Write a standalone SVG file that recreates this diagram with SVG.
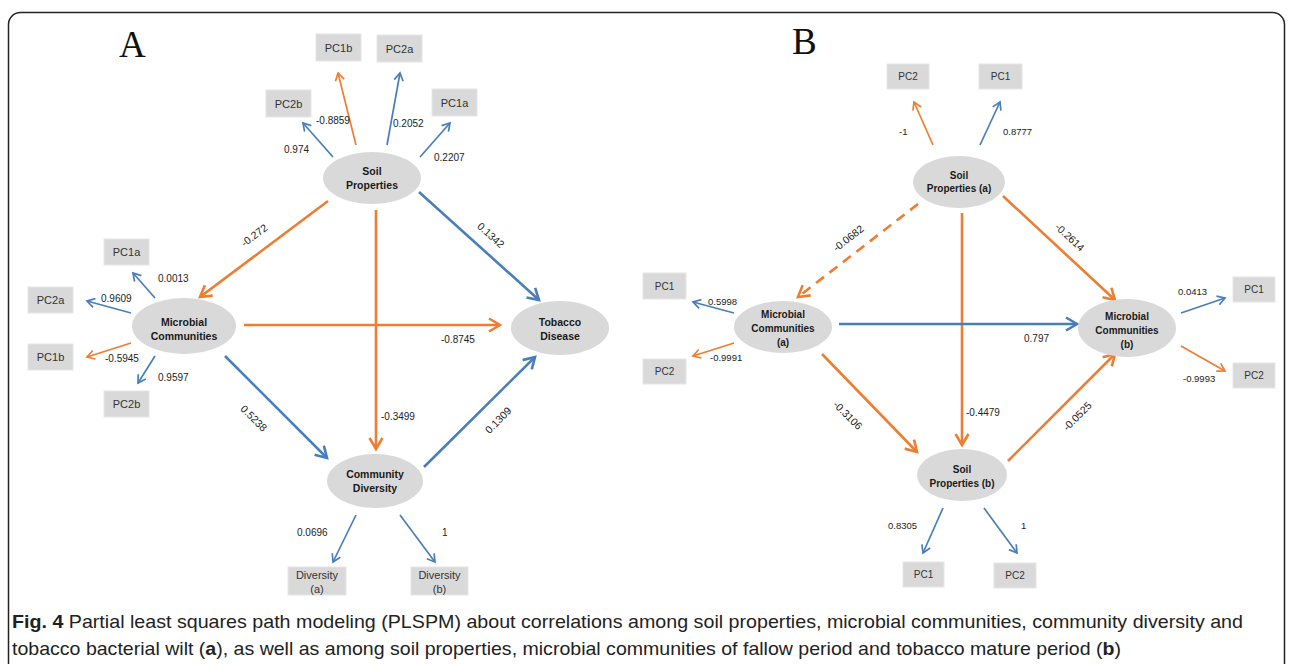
<svg xmlns="http://www.w3.org/2000/svg" width="1292" height="664" viewBox="0 0 1292 664">
<defs>
<style>
.node ellipse{fill:#D9D9D9;stroke:none}
.box rect{fill:#D9D9D9;stroke:#E6E6E6;stroke-width:1}
.nt{font-family:"Liberation Sans",Arial,sans-serif;font-weight:bold;font-size:10.5px;fill:#1a1a1a;text-anchor:middle}
.ntb{font-family:"Liberation Sans",Arial,sans-serif;font-weight:bold;font-size:10px;fill:#1a1a1a;text-anchor:middle}
.bt{font-family:"Liberation Sans",Arial,sans-serif;font-size:11px;fill:#333;text-anchor:middle}
.btb{font-family:"Liberation Sans",Arial,sans-serif;font-size:10px;fill:#333;text-anchor:middle}
.lbl{font-family:"Liberation Sans",Arial,sans-serif;font-size:10px;fill:#222}
.lblb{font-family:"Liberation Sans",Arial,sans-serif;font-size:9.5px;fill:#222}
.rl{font-family:"Liberation Sans",Arial,sans-serif;font-size:10.5px;fill:#222;text-anchor:middle;dominant-baseline:central}
.ob{stroke:#ED7D31;stroke-width:2.6;fill:none;marker-end:url(#ao)}
.bb{stroke:#4A7EBB;stroke-width:2.6;fill:none;marker-end:url(#ab)}
.os{stroke:#ED7D31;stroke-width:1.7;fill:none;marker-end:url(#aos)}
.bs{stroke:#4A7EBB;stroke-width:1.7;fill:none;marker-end:url(#abs)}
.dash{stroke-dasharray:10,7}
.cap{font-family:"Liberation Sans",Arial,sans-serif;font-size:19px;fill:#222}
.big{font-family:"Liberation Serif","Times New Roman",serif;font-size:37px;fill:#111}
</style>
<marker id="ao" markerUnits="userSpaceOnUse" viewBox="-14 -9 16 18" markerWidth="16" markerHeight="18" refX="0" refY="0" orient="auto" overflow="visible"><path d="M-11,-6.5 L0,0 L-11,6.5" fill="none" stroke="#ED7D31" stroke-width="2.6"/></marker>
<marker id="ab" markerUnits="userSpaceOnUse" viewBox="-14 -9 16 18" markerWidth="16" markerHeight="18" refX="0" refY="0" orient="auto" overflow="visible"><path d="M-11,-6.5 L0,0 L-11,6.5" fill="none" stroke="#4A7EBB" stroke-width="2.6"/></marker>
<marker id="aos" markerUnits="userSpaceOnUse" viewBox="-10 -6 12 12" markerWidth="12" markerHeight="12" refX="0" refY="0" orient="auto" overflow="visible"><path d="M-7.5,-4.5 L0,0 L-7.5,4.5" fill="none" stroke="#ED7D31" stroke-width="1.7"/></marker>
<marker id="abs" markerUnits="userSpaceOnUse" viewBox="-10 -6 12 12" markerWidth="12" markerHeight="12" refX="0" refY="0" orient="auto" overflow="visible"><path d="M-7.5,-4.5 L0,0 L-7.5,4.5" fill="none" stroke="#4A7EBB" stroke-width="1.7"/></marker>
</defs>
<rect x="0" y="0" width="1292" height="664" fill="#fff"/>
<rect x="8.5" y="12.5" width="1276" height="680" rx="12" ry="12" fill="none" stroke="#222" stroke-width="1.5"/>

<text class="big" x="119" y="57">A</text>
<text class="big" x="792" y="54">B</text>

<g id="connectors">
<!-- Panel A main -->
<line class="ob" x1="328" y1="201" x2="200" y2="297"/>
<line class="bb" x1="419" y1="192" x2="539" y2="300"/>
<line class="ob" x1="376" y1="210" x2="376" y2="449"/>
<line class="ob" x1="244" y1="325" x2="500" y2="325"/>
<line class="bb" x1="225" y1="356" x2="327" y2="458"/>
<line class="bb" x1="424" y1="467" x2="535" y2="357"/>
<!-- Panel A indicators -->
<line class="bs" x1="333" y1="157" x2="303" y2="123"/>
<line class="os" x1="356" y1="145" x2="338" y2="73"/>
<line class="bs" x1="387" y1="145" x2="400" y2="73"/>
<line class="bs" x1="420" y1="157" x2="450" y2="123"/>
<line class="bs" x1="155" y1="298" x2="133" y2="273"/>
<line class="bs" x1="131" y1="313" x2="87" y2="301"/>
<line class="os" x1="131" y1="343" x2="87" y2="357"/>
<line class="bs" x1="155" y1="356" x2="138" y2="383"/>
<line class="bs" x1="356" y1="515" x2="333" y2="562"/>
<line class="bs" x1="400" y1="515" x2="435" y2="562"/>
<!-- Panel B main -->
<line class="ob dash" x1="918" y1="204" x2="798" y2="297"/>
<line class="ob" x1="962" y1="213" x2="962" y2="445"/>
<line class="ob" x1="1003" y1="196" x2="1115" y2="300"/>
<line class="bb" x1="839" y1="324" x2="1077" y2="324"/>
<line class="ob" x1="822" y1="354" x2="917" y2="452"/>
<line class="ob" x1="1008" y1="461" x2="1115" y2="354"/>
<!-- Panel B indicators -->
<line class="os" x1="933" y1="145" x2="914" y2="102"/>
<line class="bs" x1="980" y1="145" x2="1000" y2="102"/>
<line class="bs" x1="734" y1="313" x2="693" y2="302"/>
<line class="os" x1="734" y1="343" x2="693" y2="356"/>
<line class="bs" x1="1181" y1="313" x2="1225" y2="298"/>
<line class="os" x1="1181" y1="346" x2="1225" y2="371"/>
<line class="bs" x1="943" y1="508" x2="923" y2="553"/>
<line class="bs" x1="984" y1="508" x2="1017" y2="553"/>

<!-- labels A -->
<text class="rl" transform="translate(254,235) rotate(-37)">-0.272</text>
<text class="rl" transform="translate(491,235) rotate(42)">0.1342</text>
<text class="lbl" x="381" y="420" font-size="10.5">-0.3499</text>
<text class="lbl" x="441" y="343" font-size="10.5">-0.8745</text>
<text class="rl" transform="translate(254,418) rotate(45)">0.5238</text>
<text class="rl" transform="translate(498,420) rotate(-45)">0.1309</text>
<text class="lbl" x="284" y="153">0.974</text>
<text class="lbl" x="316" y="124">-0.8859</text>
<text class="lbl" x="393" y="127">0.2052</text>
<text class="lbl" x="434" y="161">0.2207</text>
<text class="lbl" x="158" y="282">0.0013</text>
<text class="lbl" x="101" y="302">0.9609</text>
<text class="lbl" x="105" y="362">-0.5945</text>
<text class="lbl" x="158" y="381">0.9597</text>
<text class="lbl" x="297" y="536">0.0696</text>
<text class="lbl" x="442" y="536">1</text>
<!-- labels B -->
<text class="rl" transform="translate(848,238) rotate(-38)">-0.0682</text>
<text class="lbl" x="966" y="416" font-size="10.5">-0.4479</text>
<text class="rl" transform="translate(1070,237) rotate(43)">-0.2614</text>
<text class="lbl" x="1024" y="342" font-size="10.5">0.797</text>
<text class="rl" transform="translate(848,415) rotate(45)">-0.3106</text>
<text class="rl" transform="translate(1077,416) rotate(-45)">-0.0525</text>
<text class="lblb" x="899" y="135">-1</text>
<text class="lblb" x="1003" y="135">0.8777</text>
<text class="lblb" x="708" y="305">0.5998</text>
<text class="lblb" x="710" y="361">-0.9991</text>
<text class="lblb" x="1178" y="295">0.0413</text>
<text class="lblb" x="1183" y="382">-0.9993</text>
<text class="lblb" x="888" y="529">0.8305</text>
<text class="lblb" x="1021" y="529">1</text>
</g>

<!-- Panel A nodes -->
<g id="soilA" class="node"><ellipse cx="372" cy="178" rx="49" ry="26"/><text class="nt" x="372" y="175">Soil</text><text class="nt" x="372" y="189">Properties</text></g>
<g id="microA" class="node"><ellipse cx="184" cy="326" rx="52" ry="28"/><text class="nt" x="184" y="326">Microbial</text><text class="nt" x="184" y="340">Communities</text></g>
<g id="tobacco" class="node"><ellipse cx="560" cy="328" rx="49" ry="27"/><text class="nt" x="560" y="326">Tobacco</text><text class="nt" x="560" y="340">Disease</text></g>
<g id="commDiv" class="node"><ellipse cx="375" cy="481" rx="48" ry="27"/><text class="nt" x="375" y="478">Community</text><text class="nt" x="375" y="492">Diversity</text></g>

<g id="A_PC1b_s" class="box"><rect x="316" y="34" width="45" height="27"/><text class="bt" x="338.5" y="51.5">PC1b</text></g>
<g id="A_PC2a_s" class="box"><rect x="377" y="35" width="45" height="27"/><text class="bt" x="399.5" y="52.5">PC2a</text></g>
<g id="A_PC2b_s" class="box"><rect x="266" y="90" width="45" height="27"/><text class="bt" x="288.5" y="107.5">PC2b</text></g>
<g id="A_PC1a_s" class="box"><rect x="432" y="89" width="45" height="27"/><text class="bt" x="454.5" y="106.5">PC1a</text></g>
<g id="A_PC1a_m" class="box"><rect x="104" y="239" width="45" height="26"/><text class="bt" x="126.5" y="256">PC1a</text></g>
<g id="A_PC2a_m" class="box"><rect x="28" y="287" width="45" height="26"/><text class="bt" x="50.5" y="304">PC2a</text></g>
<g id="A_PC1b_m" class="box"><rect x="28" y="344" width="45" height="26"/><text class="bt" x="50.5" y="361">PC1b</text></g>
<g id="A_PC2b_m" class="box"><rect x="104" y="391" width="45" height="26"/><text class="bt" x="126.5" y="408">PC2b</text></g>
<g id="A_DivA" class="box"><rect x="288" y="567" width="58" height="28"/><text class="bt" x="317" y="579">Diversity</text><text class="bt" x="317" y="593">(a)</text></g>
<g id="A_DivB" class="box"><rect x="411" y="567" width="57" height="28"/><text class="bt" x="439.5" y="579">Diversity</text><text class="bt" x="439.5" y="593">(b)</text></g>

<!-- Panel B nodes -->
<g id="soilBa" class="node"><ellipse cx="959" cy="182" rx="46" ry="26"/><text class="ntb" x="959" y="179">Soil</text><text class="ntb" x="959" y="192">Properties (a)</text></g>
<g id="microBa" class="node"><ellipse cx="783" cy="327" rx="49" ry="26"/><text class="ntb" x="783" y="318">Microbial</text><text class="ntb" x="783" y="332">Communities</text><text class="ntb" x="783" y="346">(a)</text></g>
<g id="microBb" class="node"><ellipse cx="1127" cy="328" rx="49" ry="29"/><text class="ntb" x="1127" y="320">Microbial</text><text class="ntb" x="1127" y="334">Communities</text><text class="ntb" x="1127" y="348">(b)</text></g>
<g id="soilBb" class="node"><ellipse cx="962" cy="475" rx="45" ry="26"/><text class="ntb" x="962" y="473">Soil</text><text class="ntb" x="962" y="487">Properties (b)</text></g>

<g id="B_PC2_sa" class="box"><rect x="887" y="64" width="42" height="25"/><text class="btb" x="908" y="80">PC2</text></g>
<g id="B_PC1_sa" class="box"><rect x="979" y="64" width="43" height="25"/><text class="btb" x="1000.5" y="80">PC1</text></g>
<g id="B_PC1_ma" class="box"><rect x="643" y="273" width="43" height="26"/><text class="btb" x="664.5" y="290">PC1</text></g>
<g id="B_PC2_ma" class="box"><rect x="643" y="359" width="43" height="25"/><text class="btb" x="664.5" y="375">PC2</text></g>
<g id="B_PC1_mb" class="box"><rect x="1233" y="277" width="42" height="25"/><text class="btb" x="1254" y="293">PC1</text></g>
<g id="B_PC2_mb" class="box"><rect x="1233" y="363" width="42" height="25"/><text class="btb" x="1254" y="379">PC2</text></g>
<g id="B_PC1_sb" class="box"><rect x="903" y="562" width="41" height="25"/><text class="btb" x="923.5" y="578">PC1</text></g>
<g id="B_PC2_sb" class="box"><rect x="994" y="563" width="42" height="25"/><text class="btb" x="1015" y="579">PC2</text></g>

<text class="cap" x="12" y="628" textLength="1231" lengthAdjust="spacingAndGlyphs"><tspan font-weight="bold">Fig. 4</tspan> Partial least squares path modeling (PLSPM) about correlations among soil properties, microbial communities, community diversity and</text>
<text class="cap" x="12" y="655" textLength="1109" lengthAdjust="spacingAndGlyphs">tobacco bacterial wilt (<tspan font-weight="bold">a</tspan>), as well as among soil properties, microbial communities of fallow period and tobacco mature period (<tspan font-weight="bold">b</tspan>)</text>
</svg>
